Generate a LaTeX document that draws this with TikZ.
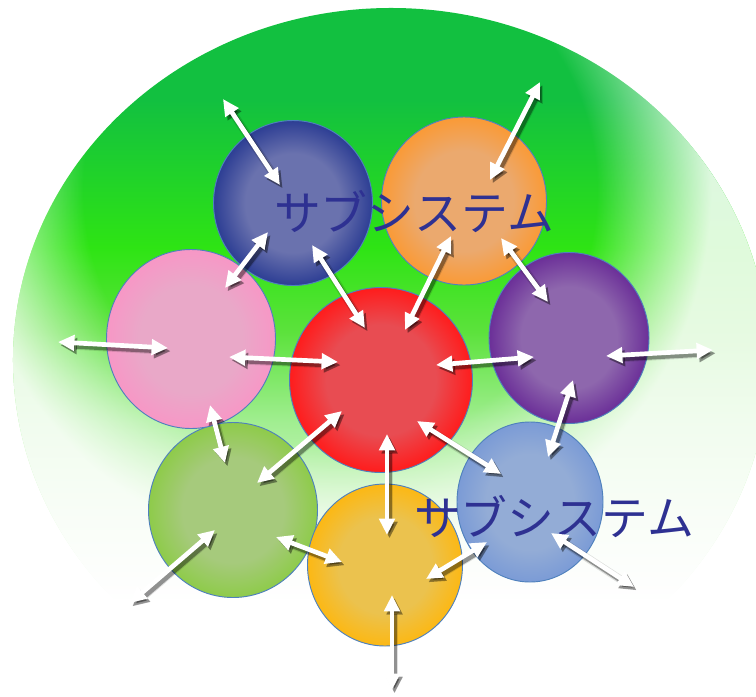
\documentclass[tikz,border=0pt]{standalone}
\usepackage{fontspec}
\newfontfamily\jpfont{Noto Sans CJK JP}
\usetikzlibrary{arrows.meta,calc,fadings,shapes.geometric}

\definecolor{bgtop}{HTML}{12C040}
\definecolor{bglime}{HTML}{2EE414}
\definecolor{bgmid}{HTML}{5CE23C}
\definecolor{bglight}{HTML}{A2EE92}
\definecolor{bgpale}{HTML}{DAF8D2}
\definecolor{ringedge}{HTML}{4F81BD}
\definecolor{navy}{HTML}{2E3192}
\definecolor{bluein}{HTML}{6A72AE}
\definecolor{blueout}{HTML}{2D3E94}
\definecolor{orangein}{HTML}{EBA96E}
\definecolor{orangeout}{HTML}{FA9A36}
\definecolor{pinkin}{HTML}{E9A8C8}
\definecolor{pinkout}{HTML}{F797C6}
\definecolor{redin}{HTML}{E84C52}
\definecolor{redout}{HTML}{FF1C1C}
\definecolor{purplein}{HTML}{8E67AD}
\definecolor{purpleout}{HTML}{6B2F98}
\definecolor{greenin}{HTML}{A6CA7C}
\definecolor{greenout}{HTML}{8ECB4A}
\definecolor{yellowin}{HTML}{EBC24E}
\definecolor{yellowout}{HTML}{FCB814}
\definecolor{skyin}{HTML}{93ACD6}
\definecolor{skyout}{HTML}{7B9BD6}
\colorlet{ringin}{white}
\colorlet{ringout}{black}

\pgfdeclareverticalshading{meadow}{100bp}{color(0bp)=(white); color(33bp)=(white);
  color(38.5bp)=(bgpale); color(45.5bp)=(bglight); color(52bp)=(bgmid);
  color(58bp)=(bglime); color(68.5bp)=(bgtop); color(100bp)=(bgtop)}
\pgfdeclareradialshading[ringin,ringout]{ring}{\pgfpointorigin}{color(0bp)=(ringin);
  color(15bp)=(ringin); color(25bp)=(ringout); color(50bp)=(ringout)}
\pgfdeclareradialshading{rimshade}{\pgfpointorigin}{color(0bp)=(black);
  color(7.6bp)=(black); color(11bp)=(white!85!black); color(50bp)=(white!85!black)}
\pgfdeclarefading{rimfade}{\pgfuseshading{rimshade}}

\begin{document}
\begin{tikzpicture}[x=0.03cm, y=-0.03cm,
    subsys/.style n args={2}{ellipse, draw=ringedge, line width=0.8pt, inner sep=0pt,
        /utils/exec={\colorlet{ringin}{#1}\colorlet{ringout}{#2}}, shading=ring},
    tips/.style={{Triangle[length=14pt,width=13pt]}-{Triangle[length=14pt,width=13pt]}},
    flow/.style={draw=white, line width=4pt, tips,
        preaction={draw=black, opacity=0.12, line width=7pt, tips,
            transform canvas={shift={(2pt,-2.4pt)}}},
        preaction={draw=black, opacity=0.35, line width=4.5pt, tips,
            transform canvas={shift={(2.2pt,-2.8pt)}}}},
    caption/.style={font=\jpfont\fontsize{40}{48}\selectfont, text=navy, inner sep=0pt}]
    \useasboundingbox (0,0) rectangle (756,696);
    \path[shading=meadow] (391,360) ellipse [x radius=11.34cm, y radius=10.56cm];
    \begin{scope}
        \clip (391,360) ellipse [x radius=11.34cm, y radius=10.56cm];
        \fill[white, path fading=rimfade] (340,190) circle [radius=25.2cm];
    \end{scope}
    \node[subsys={greenin}{greenout}, minimum width=5.07cm, minimum height=5.25cm] (green) at (233,510) {};
    \node[subsys={pinkin}{pinkout}, minimum width=5.07cm, minimum height=5.37cm] (pink) at (191,339) {};
    \node[subsys={skyin}{skyout}, minimum width=4.38cm, minimum height=4.8cm] (sky) at (530,502) {};
    \node[subsys={yellowin}{yellowout}, minimum width=4.65cm, minimum height=4.86cm] (yellow) at (385,565) {};
    \node[subsys={bluein}{blueout}, minimum width=4.77cm, minimum height=4.95cm] (blue) at (293,203) {};
    \node[subsys={orangein}{orangeout}, minimum width=4.95cm, minimum height=5.04cm] (orange) at (464,201) {};
    \node[subsys={purplein}{purpleout}, minimum width=4.8cm, minimum height=5.13cm] (purple) at (569,338) {};
    \node[subsys={redin}{redout}, minimum width=5.49cm, minimum height=5.55cm] (core) at (381,380) {};
    \node[caption] (sub-top) at (414,212) {サブシステム};
    \node[caption] (sub-bottom) at (554,517) {サブシステム};
    \coordinate (blue-out) at (223,99);
    \coordinate (orange-out) at (540,82);
    \coordinate (pink-out) at (58,342);
    \coordinate (purple-out) at (713,350);
    \coordinate (green-out) at (130,603);
    \coordinate (sky-out) at (634,587);
    \coordinate (yellow-out) at (392,690);
    \draw[flow] (blue-out) -- ($(blue)+(-13,-18)$);
    \draw[flow] (orange-out) -- ($(orange)+(26,-21)$);
    \draw[flow] ($(blue)+(-25,29)$) -- ($(pink)+(34,-51)$);
    \draw[flow] ($(blue)+(19,42)$) -- ($(core)+(-16,-52)$);
    \draw[flow] ($(orange)+(-13,35)$) -- ($(core)+(24,-50)$);
    \draw[flow] ($(orange)+(37,37)$) -- ($(purple)+(-21,-36)$);
    \draw[flow] (pink-out) -- ($(pink)+(-23,9)$);
    \draw[flow] ($(pink)+(38,18)$) -- ($(core)+(-43,-18)$);
    \draw[flow] ($(core)+(55,-15)$) -- ($(purple)+(-35,19)$);
    \draw[flow] ($(purple)+(37,18)$) -- (purple-out);
    \draw[flow] ($(pink)+(19,66)$) -- ($(green)+(-8,-47)$);
    \draw[flow] ($(purple)+(4,42)$) -- ($(sky)+(18,-45)$);
    \draw[flow] ($(core)+(-39,31)$) -- ($(green)+(24,-27)$);
    \draw[flow] ($(core)+(36,41)$) -- ($(sky)+(-29,-28)$);
    \draw[flow] ($(core)+(6,54)$) -- ($(yellow)+(2,-30)$);
    \draw[flow] (green-out) -- ($(green)+(-18,20)$);
    \draw[flow] ($(green)+(43,27)$) -- ($(yellow)+(-43,-3)$);
    \draw[flow] ($(yellow)+(41,14)$) -- ($(sky)+(-43,40)$);
    \draw[flow] ($(sky)+(21,31)$) -- (sky-out);
    \draw[flow] ($(yellow)+(7,30)$) -- (yellow-out);
\end{tikzpicture}
\end{document}
